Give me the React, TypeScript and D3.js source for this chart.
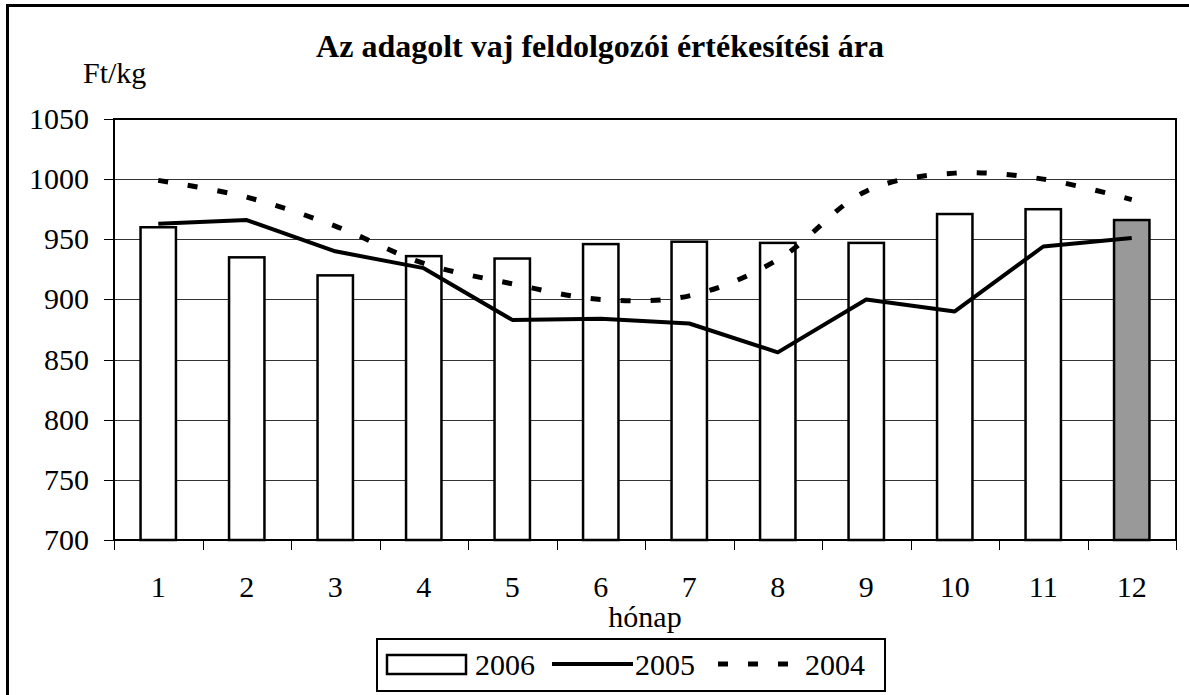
import React from "react";
import * as d3 from "d3";

const months = ["1", "2", "3", "4", "5", "6", "7", "8", "9", "10", "11", "12"];
const values2006 = [960, 935, 920, 936, 934, 946, 948, 947, 947, 971, 975, 966];
const values2005 = [963, 966, 940, 926, 883, 884, 880, 856, 900, 890, 944, 951];
const values2004 = [999, 985, 961, 930, 913, 900, 903, 933, 990, 1005, 1000, 983];
const yTicks = [700, 750, 800, 850, 900, 950, 1000, 1050];

const FONT = "'Liberation Serif', 'Times New Roman', serif";

const drawChart = (svgEl: SVGSVGElement) => {
  const svg = d3.select(svgEl);
  svg.selectAll("*").remove();

  const plot = { left: 114, right: 1176, top: 119, bottom: 540 };

  const x = d3.scaleBand<string>()
    .domain(months)
    .range([plot.left, plot.right])
    .paddingInner(0.6)
    .paddingOuter(0.3);
  const y = d3.scaleLinear().domain([700, 1050]).range([plot.bottom, plot.top]);
  const center = (m: string) => (x(m) as number) + x.bandwidth() / 2;
  const step = x.step();

  // outer frame (runs off the picture at right and bottom)
  svg.append("rect")
    .attr("x", 7.5).attr("y", 5.5)
    .attr("width", 1250).attr("height", 750)
    .attr("fill", "none").attr("stroke", "black").attr("stroke-width", 3);

  // title
  svg.append("text")
    .attr("x", 600).attr("y", 57)
    .attr("text-anchor", "middle")
    .style("font-family", FONT).style("font-weight", "bold").style("font-size", "32px")
    .text("Az adagolt vaj feldolgozói értékesítési ára");

  svg.append("text")
    .attr("x", 83).attr("y", 83)
    .style("font-family", FONT).style("font-size", "30px")
    .text("Ft/kg");

  // gridlines
  svg.append("g").selectAll("line")
    .data(yTicks.slice(1, -1))
    .enter().append("line")
    .attr("x1", plot.left).attr("x2", plot.right)
    .attr("y1", d => Math.round(y(d)) + 0.5).attr("y2", d => Math.round(y(d)) + 0.5)
    .attr("stroke", "#333").attr("stroke-width", 1);

  // y ticks and labels
  const yAxis = svg.append("g");
  yAxis.selectAll("line")
    .data(yTicks)
    .enter().append("line")
    .attr("x1", plot.left - 10).attr("x2", plot.left)
    .attr("y1", d => Math.round(y(d)) + 0.5).attr("y2", d => Math.round(y(d)) + 0.5)
    .attr("stroke", "black").attr("stroke-width", 1);
  yAxis.selectAll("text")
    .data(yTicks)
    .enter().append("text")
    .attr("x", 89).attr("y", d => y(d) + 10)
    .attr("text-anchor", "end")
    .style("font-family", FONT).style("font-size", "30px")
    .text(d => d);

  // bars (2006)
  svg.append("g").selectAll("rect")
    .data(values2006)
    .enter().append("rect")
    .attr("x", (d, i) => x(months[i]) as number)
    .attr("y", d => y(d))
    .attr("width", x.bandwidth())
    .attr("height", d => y(700) - y(d))
    .attr("fill", (d, i) => (i === months.length - 1 ? "#999999" : "white"))
    .attr("stroke", "black").attr("stroke-width", 2.5);

  // 2004 smoothed dashed
  const smooth = d3.line<number>()
    .x((d, i) => center(months[i]))
    .y(d => y(d))
    .curve(d3.curveCatmullRom.alpha(0.5));
  svg.append("path")
    .attr("d", smooth(values2004))
    .attr("fill", "none").attr("stroke", "black")
    .attr("stroke-width", 5).attr("stroke-dasharray", "10 20");

  // 2005 solid
  const straight = d3.line<number>()
    .x((d, i) => center(months[i]))
    .y(d => y(d));
  svg.append("path")
    .attr("d", straight(values2005))
    .attr("fill", "none").attr("stroke", "black")
    .attr("stroke-width", 4).attr("stroke-linejoin", "round");

  // plot frame
  svg.append("rect")
    .attr("x", plot.left).attr("y", plot.top)
    .attr("width", plot.right - plot.left).attr("height", plot.bottom - plot.top)
    .attr("fill", "none").attr("stroke", "black").attr("stroke-width", 2);

  // x ticks at category boundaries
  const boundaries = months.map(m => center(m) - step / 2).concat([center(months[11]) + step / 2]);
  svg.append("g").selectAll("line")
    .data(boundaries)
    .enter().append("line")
    .attr("x1", d => Math.round(d) + 0.5).attr("x2", d => Math.round(d) + 0.5)
    .attr("y1", plot.bottom).attr("y2", plot.bottom + 10)
    .attr("stroke", "black").attr("stroke-width", 1);

  svg.append("g").selectAll("text")
    .data(months)
    .enter().append("text")
    .attr("x", d => center(d)).attr("y", 597)
    .attr("text-anchor", "middle")
    .style("font-family", FONT).style("font-size", "30px")
    .text(d => d);

  svg.append("text")
    .attr("x", (plot.left + plot.right) / 2).attr("y", 627)
    .attr("text-anchor", "middle")
    .style("font-family", FONT).style("font-size", "30px")
    .text("hónap");

  // legend
  const legend = svg.append("g");
  legend.append("rect")
    .attr("x", 377).attr("y", 639).attr("width", 508).attr("height", 52)
    .attr("fill", "white").attr("stroke", "black").attr("stroke-width", 2);
  legend.append("rect")
    .attr("x", 387).attr("y", 655).attr("width", 79).attr("height", 19)
    .attr("fill", "white").attr("stroke", "black").attr("stroke-width", 2.5);
  legend.append("line")
    .attr("x1", 552).attr("x2", 633).attr("y1", 664).attr("y2", 664)
    .attr("stroke", "black").attr("stroke-width", 4);
  legend.append("line")
    .attr("x1", 718).attr("x2", 792).attr("y1", 664).attr("y2", 664)
    .attr("stroke", "black").attr("stroke-width", 5).attr("stroke-dasharray", "10 20");
  const legendLabels = [["2006", 475], ["2005", 635], ["2004", 805]];
  legend.selectAll("text.lbl")
    .data(legendLabels)
    .enter().append("text")
    .attr("x", d => d[1]).attr("y", 675)
    .style("font-family", FONT).style("font-size", "30px")
    .text(d => d[0]);
};

const App = () => {
  const ref = React.useRef<SVGSVGElement>(null);

  React.useEffect(() => {
    if (ref.current) drawChart(ref.current);
  }, []);

  return (
    <svg
      ref={ref}
      width={1189}
      height={695}
      style={{ position: "absolute", left: 0, top: 0, background: "white" }}
    />
  );
};

export default App;
